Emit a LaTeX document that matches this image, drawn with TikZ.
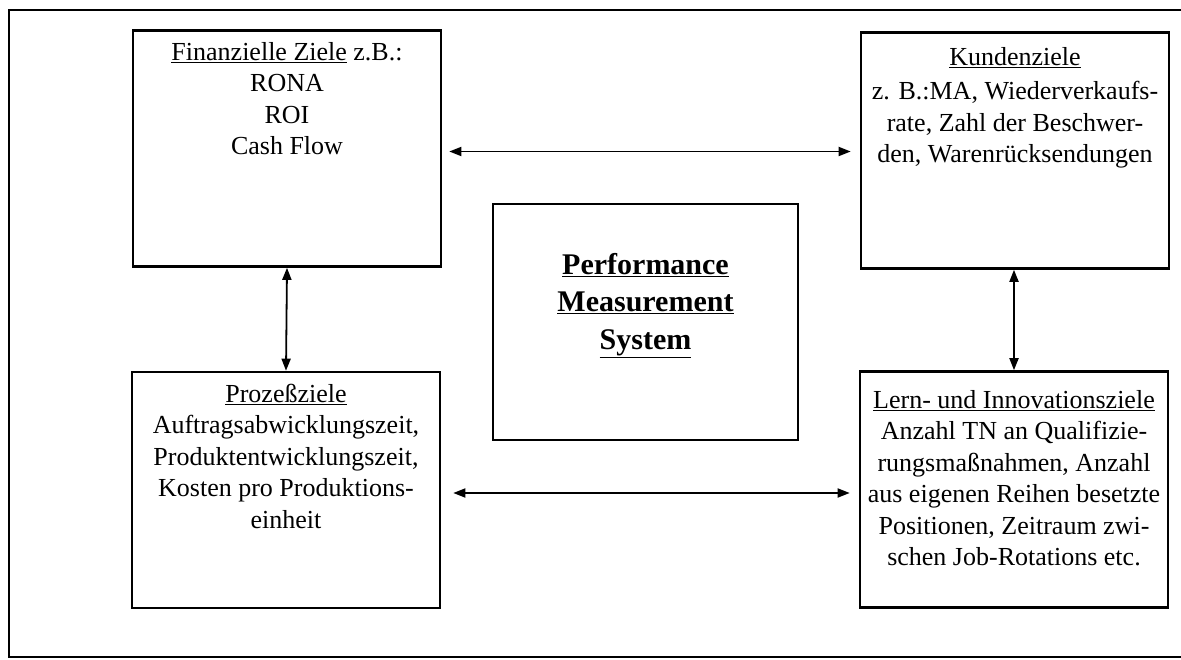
\documentclass[tikz,border=0pt]{standalone}
\usepackage{fontspec}
\setmainfont{Liberation Serif}
\usetikzlibrary{positioning,arrows.meta}

\begin{document}
\begin{tikzpicture}[x=1pt,y=-1pt,
  goal/.style={draw,line width=2.6pt,minimum width=308pt,minimum height=236pt,inner sep=0pt},
  goaltext/.style={align=center,inner sep=3pt,font=\fontsize{26}{31.5}\selectfont},
  link/.style={line width=1.8pt,{Triangle[length=12pt,width=9pt]}-{Triangle[length=12pt,width=9pt]}}]
\useasboundingbox (0,0) rectangle (1181,660);
% outer frame, open on the right
\draw[line width=1.6pt] (1181,10) -- (9,10) -- (9,657) -- (1181,657);

\node[goal] (fin) at (287,148.5) {};
\node[goal] (kunden) at (1015,150.5) {};
\node[goal] (prozess) at (286,490) {};
\node[goal] (lernen) at (1014,489.5) {};
\node[goal,minimum width=305pt] (pms) at (645.5,322) {};

\node[goaltext,below=10pt of fin.north] (fintext) {\underline{Finanzielle Ziele} z.B.:\\RONA\\ROI\\Cash Flow};
\node[goaltext,below=13pt of kunden.north] (kundentext) {\underline{Kundenziele}\\[3pt]z. B.:MA, Wiederverkaufs-\\rate, Zahl der Beschwer-\\den, Warenrücksendungen};
\node[goaltext,below=10pt of prozess.north] (prozesstext) {\underline{Prozeßziele}\\Auftragsabwicklungszeit,\\Produktentwicklungszeit,\\Kosten pro Produktions-\\einheit};
\node[goaltext,below=17pt of lernen.north] (lernentext) {\underline{Lern- und Innovationsziele}\\Anzahl TN an Qualifizie-\\rungsmaßnahmen, Anzahl\\aus eigenen Reihen besetzte\\Positionen, Zeitraum zwi-\\schen Job-Rotations etc.};
\node[goaltext,font=\fontsize{30}{37.5}\selectfont\bfseries,below=47pt of pms.north] (pmstext) {\underline{Performance}\\\underline{Measurement}\\\underline{System}};

\draw[link,shorten <=7pt,shorten >=9pt] ([yshift=-3pt]fin.east) -- ([yshift=-3pt]fin.east -| kunden.west);
\draw[link,shorten <=12pt,shorten >=9pt] ([yshift=-3pt]prozess.east) -- ([yshift=-3pt]prozess.east -| lernen.west);
\draw[link] (fin.south) -- (prozess.north);
\draw[link] ([xshift=-1pt]kunden.south) -- ([xshift=-1pt]kunden.south |- lernen.north);
\end{tikzpicture}
\end{document}
